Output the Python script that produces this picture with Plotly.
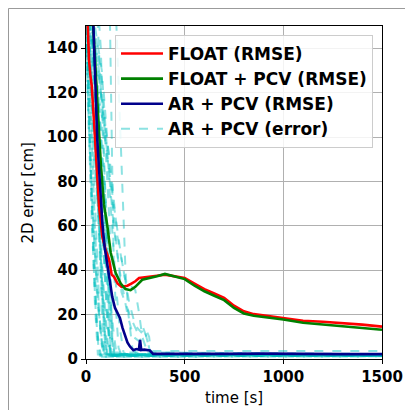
import plotly.graph_objects as go

# ---- data ----
float_t = [5, 15, 22, 29, 40, 50, 66, 83, 100, 117, 130, 142, 160, 180, 193, 210, 230, 250, 269, 290, 320, 360, 400, 450, 500, 550, 600, 650, 700, 750, 800, 850, 900, 950, 1000, 1100, 1200, 1300, 1400, 1500]
float_v = [160, 135, 128, 123, 108, 92, 69, 55, 49, 44.7, 38, 37, 34, 32.5, 32.6, 33, 34, 35, 36.5, 36.8, 37, 37.5, 38, 37.3, 36.5, 34, 31.5, 29.5, 27.5, 24, 21.5, 20.2, 19.6, 19, 18.5, 17.2, 16.8, 16.3, 15.5, 14.6]

floatpcv_t = [30, 45, 60, 75, 91, 108, 125, 150, 176, 200, 226, 250, 285, 320, 360, 400, 450, 500, 550, 600, 650, 700, 750, 800, 850, 900, 1000, 1100, 1200, 1300, 1400, 1500]
floatpcv_v = [160, 135, 110, 88, 69.5, 60, 48, 38.8, 34, 31.5, 31, 32.5, 35.7, 36.3, 37.3, 38.3, 37, 36, 33, 30.5, 28.5, 26.5, 23, 20.5, 19.5, 19, 17.8, 16.3, 15.5, 15, 14, 13.2]

arpcv_t = [30, 37, 46, 57, 70, 83, 95, 108, 120, 133, 147, 160, 172, 185, 198, 210, 223, 240, 255, 268, 274, 280, 295, 316, 324, 340, 500, 700, 900, 1100, 1300, 1500]
arpcv_v = [170, 150, 128, 99, 80, 61, 50, 41.7, 35, 28, 23, 20.5, 18.5, 14, 10, 7.5, 5.6, 4, 4.5, 4.2, 8.6, 4, 4.2, 4, 3.8, 2.3, 2.2, 2.3, 2.4, 2.2, 2.2, 2.2]

# individual AR + PCV error runs (time knots, error values)
err_runs = [
    ([0, 20, 45, 70, 95, 1500], [160, 120, 60, 15, 2, 1.5]),
    ([0, 25, 50, 75, 100, 115, 1500], [170, 130, 90, 40, 5, 1.5, 1.5]),
    ([0, 15, 35, 55, 80, 100, 1500], [155, 110, 70, 30, 8, 1, 1.2]),
    ([5, 30, 60, 85, 105, 125, 1500], [160, 140, 100, 55, 20, 2, 1.8]),
    ([10, 40, 70, 100, 120, 135, 150, 1500], [155, 135, 110, 70, 30, 5, 2, 2]),
    ([0, 60, 75, 95, 110, 130, 145, 1500], [160, 150, 120, 80, 50, 15, 2, 1.6]),
    ([120, 130, 135, 140, 150, 165, 180, 1500], [160, 110, 70, 45, 25, 5, 2, 2]),
    ([150, 170, 188, 200, 215, 235, 260, 1500], [160, 110, 63, 40, 20, 5, 2, 2]),
    ([0, 30, 60, 90, 110, 130, 145, 1500], [150, 100, 70, 50, 35, 10, 1.5, 1.5]),
    ([0, 20, 40, 60, 80, 95, 1500], [145, 90, 55, 25, 6, 1.5, 1.4]),
    ([0, 30, 55, 80, 100, 115, 130, 1500], [175, 150, 120, 80, 45, 15, 2, 1.7]),
    ([0, 60, 120, 160, 200, 250, 270, 285, 300, 320, 1500], [160, 130, 90, 55, 35, 31, 20, 10, 6, 3.6, 3.6]),
    ([0, 80, 140, 180, 220, 250, 280, 300, 320, 330, 1500], [150, 110, 70, 45, 25, 15, 12, 14, 10, 2, 1.8]),
    ([0, 50, 100, 140, 170, 210, 240, 270, 300, 320, 330, 1500], [170, 140, 100, 60, 40, 20, 10, 8, 12, 5, 1.5, 1.5]),
    ([0, 25, 50, 75, 95, 110, 120, 1500], [155, 125, 85, 50, 25, 8, 1.5, 1.3]),
    ([0, 15, 30, 50, 65, 80, 1500], [140, 100, 60, 20, 3, 1, 1.2]),
    ([0, 45, 80, 110, 130, 150, 170, 190, 210, 1500], [165, 150, 130, 90, 60, 35, 15, 3, 1.8, 1.8]),
    ([0, 10, 25, 40, 60, 75, 1500], [150, 120, 80, 40, 10, 2, 1.5]),
    ([0, 35, 65, 90, 115, 140, 155, 1500], [170, 140, 100, 65, 35, 12, 2, 1.6]),
    ([0, 50, 90, 120, 150, 180, 230, 260, 290, 310, 325, 1500], [160, 145, 120, 85, 55, 30, 18, 12, 14, 9, 3, 2.2]),
    ([0, 30, 50, 65, 80, 95, 110, 1500], [160, 145, 110, 70, 35, 10, 1.5, 1.5]),
    ([0, 20, 35, 50, 70, 90, 105, 1500], [150, 140, 120, 90, 55, 20, 2, 1.8]),
    ([0, 40, 60, 80, 100, 115, 125, 1500], [155, 145, 125, 95, 60, 25, 2, 1.6]),
    ([0, 10, 20, 30, 45, 60, 1500], [150, 130, 100, 65, 25, 2, 1.4]),
    ([0, 30, 60, 90, 120, 135, 1500], [165, 150, 135, 110, 60, 3, 2]),
    ([60, 75, 85, 95, 105, 120, 1500], [160, 140, 110, 80, 40, 2, 1.7]),
    ([0, 12, 25, 40, 55, 70, 85, 1500], [155, 140, 115, 85, 50, 18, 2, 1.5]),
    ([0, 15, 30, 45, 60, 80, 100, 1500], [165, 150, 125, 100, 70, 30, 2, 1.6]),
    ([0, 5, 15, 25, 40, 55, 70, 1500], [150, 135, 110, 85, 55, 15, 1.5, 1.4]),
    ([0, 25, 45, 70, 90, 110, 1500], [140, 120, 95, 60, 25, 2, 1.7]),
    ([0, 20, 40, 55, 70, 85, 95, 1500], [170, 145, 115, 80, 45, 12, 1.5, 1.5]),
    ([0, 35, 55, 75, 95, 110, 125, 1500], [160, 140, 110, 75, 45, 15, 2, 1.9]),
]

x_ticks = [0, 500, 1000, 1500]
y_ticks = [0, 20, 40, 60, 80, 100, 120, 140]

fig = go.Figure()

cyan = "rgba(0,191,191,0.45)"
for i, (t, v) in enumerate(err_runs):
    fig.add_trace(go.Scatter(
        x=t, y=v, mode="lines",
        line=dict(color=cyan, width=2, dash="dash"),
        name="AR + PCV (error)", showlegend=(i == 0),
        legendrank=4, legendgroup="d", hoverinfo="skip"))

fig.add_trace(go.Scatter(x=float_t, y=float_v, mode="lines", name="FLOAT (RMSE)",
                         line=dict(color="#ff0000", width=2.6), legendrank=1, legendgroup="a"))
fig.add_trace(go.Scatter(x=floatpcv_t, y=floatpcv_v, mode="lines", name="FLOAT + PCV (RMSE)",
                         line=dict(color="#008000", width=2.6), legendrank=2, legendgroup="b"))
fig.add_trace(go.Scatter(x=arpcv_t, y=arpcv_v, mode="lines", name="AR + PCV (RMSE)",
                         line=dict(color="#00008b", width=2.6), legendrank=3, legendgroup="c"))

axis_common = dict(
    showline=True, linecolor="black", linewidth=1, mirror=True,
    ticks="outside", ticklen=4, tickcolor="black",
    showgrid=True, gridcolor="#b0b0b0", gridwidth=1, zeroline=False,
    automargin=False,
    tickfont=dict(family="DejaVu Sans", size=15, color="black", weight="bold"),
)

fig.update_xaxes(range=[0, 1500], tickvals=x_ticks, ticktext=[str(x) for x in x_ticks], **axis_common)
fig.update_yaxes(range=[0, 150], tickvals=y_ticks, ticktext=[str(y) for y in y_ticks], **axis_common)

title_font = dict(family="DejaVu Sans", size=15, color="black")
fig.update_layout(
    width=405, height=402,
    margin=dict(l=78, r=31, t=18, b=51, autoexpand=False),
    paper_bgcolor="white", plot_bgcolor="white",
    showlegend=True,
    legend=dict(x=0.098, y=0.973, xanchor="left", yanchor="top",
                bgcolor="rgba(255,255,255,0.85)", bordercolor="#cccccc", borderwidth=1,
                font=dict(family="DejaVu Sans", size=17, color="black", weight="bold"),
                itemwidth=42, tracegroupgap=0, traceorder="grouped"),
    annotations=[
        dict(text="time [s]", xref="paper", yref="paper", x=0.5, y=-0.117,
             xanchor="center", yanchor="middle", showarrow=False, font=title_font),
        dict(text="2D error [cm]", xref="paper", yref="paper", x=-0.199, y=0.5,
             xanchor="center", yanchor="middle", showarrow=False, textangle=-90, font=title_font),
    ],
    shapes=[dict(type="rect", xref="paper", yref="paper",
                 x0=-0.2618, x1=1.3, y0=-0.3, y1=1.0526,
                 line=dict(color="#999999", width=1), layer="below")],
)

fig.write_html("out.html")
